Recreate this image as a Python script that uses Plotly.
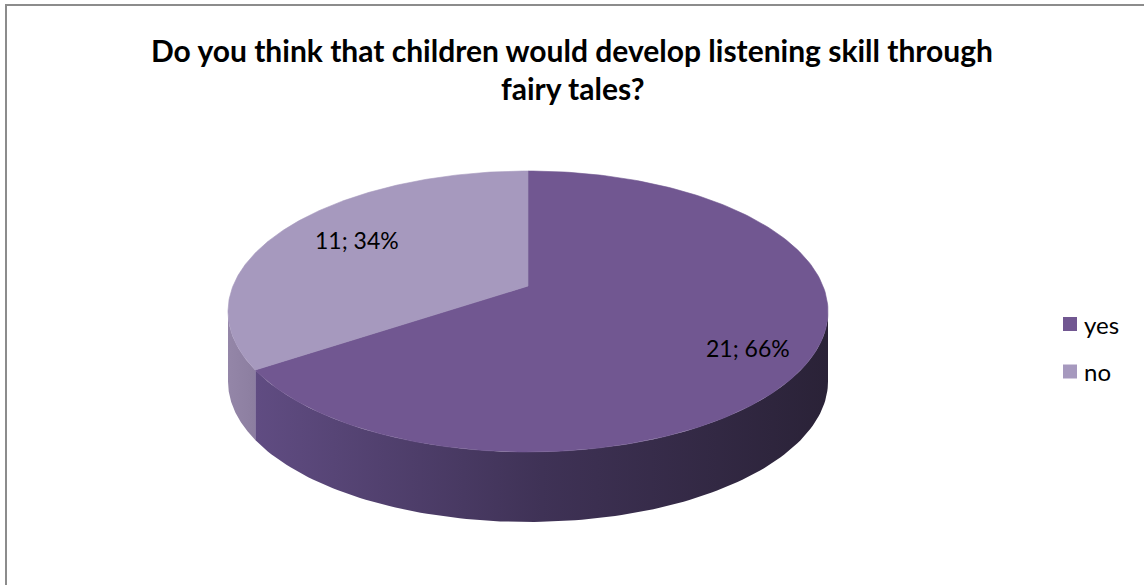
import numpy as np
import plotly.graph_objects as go

# Survey answers
labels = ["yes", "no"]
counts = [21, 11]
top_colors = ["#715791", "#A699BE"]
side_colors = [["#604C82", "#3F3256", "#2A2237"], ["#9486A8", "#8C7EA0"]]

# Geometry of the tilted pie (pixel units, y grows downward)
W, H = 1144, 585
CX, CY = 528.0, 311.5        # centre of the top ellipse
RX, RY = 300.0, 140.5        # radii of the top ellipse
DEPTH = 70.0                 # thickness of the pie
SHIFT = 0.181                # perspective shift of the disc centre toward the far side

a = np.arctanh(SHIFT)
CH, SH = np.cosh(a), np.sinh(a)


def project(phi_deg, k=1.0):
    """Perspective-project a point on the disc (angle phi, radius k) to the screen."""
    p = np.radians(phi_deg)
    den = SH * k * np.sin(p) + CH
    u = k * np.cos(p) / den
    v = (CH * k * np.sin(p) + SH) / den
    return CX + RX * u, CY - RY * v


def ellipse_angle(phi_deg):
    x, y = project(phi_deg)
    return np.degrees(np.arctan2(-(y - CY) / RY, (x - CX) / RX))


def ellipse_pts(psi_from, psi_to, n=120):
    psi = np.radians(np.linspace(psi_from, psi_to, n))
    return CX + RX * np.cos(psi), CY - RY * np.sin(psi)


total = sum(counts)
fig = go.Figure()

# slice angles: first slice starts at 12 o'clock, going clockwise
bounds = []
start = 90.0
for c in counts:
    sweep = 360.0 * c / total
    bounds.append((start, start - sweep))
    start -= sweep

# side walls (visible front half of the ellipse: psi in [-180, 0])
for i, (p0, p1) in enumerate(bounds):
    s0 = ellipse_angle(p0)
    s1 = ellipse_angle(p1)
    if s1 > s0:
        s1 -= 360.0
    segs = []
    for off in (0.0, -360.0, 360.0):
        lo, hi = max(s1, -180.0 + off), min(s0, 0.0 + off)
        if lo < hi:
            segs.append((hi, lo))
    for hi, lo in segs:
        xs, ys = ellipse_pts(hi, lo)
        px = np.concatenate([xs, xs[::-1]])
        py = np.concatenate([ys, ys[::-1] + DEPTH])
        cols = side_colors[i]
        scale = [[j / (len(cols) - 1), col] for j, col in enumerate(cols)]
        fig.add_trace(go.Scatter(
            x=px, y=py, mode="lines", fill="toself",
            line=dict(width=0), fillcolor=cols[0],
            fillgradient=dict(type="horizontal", colorscale=scale),
            hoverinfo="skip", showlegend=False))

# top faces
for i, (p0, p1) in enumerate(bounds):
    phis = np.linspace(p0, p1, 200)
    ax, ay = project(phis)
    vx, vy = project(0.0, 0.0)
    fig.add_trace(go.Scatter(
        x=np.concatenate([[vx], ax, [vx]]), y=np.concatenate([[vy], ay, [vy]]),
        mode="lines", fill="toself", line=dict(width=0.6, color=top_colors[i]),
        fillcolor=top_colors[i], hoverinfo="skip", showlegend=False))

# data labels "count; percent"
label_xy = [(748, 348), (357, 240)]
for (lx, ly), c in zip(label_xy, counts):
    fig.add_annotation(x=lx, y=ly, text=f"{c}; {round(100 * c / total)}%",
                       showarrow=False, font=dict(family="Lato", size=23, color="#000"),
                       xanchor="center", yanchor="middle")

# legend
leg_y = [324, 371.5]
fig.add_trace(go.Scatter(x=[1070] * len(labels), y=leg_y, mode="markers",
                         marker=dict(symbol="square", size=14, color=top_colors,
                                     line=dict(width=0)),
                         hoverinfo="skip", showlegend=False))
for name, ly in zip(labels, leg_y):
    fig.add_annotation(x=1082, y=ly, text=name, showarrow=False,
                       font=dict(family="Lato", size=24, color="#000"),
                       xanchor="left", yanchor="middle")

# title
for txt, ty in [("Do you think that children would develop listening skill through", 50),
                ("fairy tales?", 88)]:
    fig.add_annotation(x=572, y=ty, text=f"<b>{txt}</b>", showarrow=False,
                       font=dict(family="Lato", size=30, color="#000"),
                       xanchor="center", yanchor="middle")

# chart frame
fig.add_shape(type="rect", x0=6, y0=5, x1=W + 10, y1=H + 10,
              line=dict(color="#8C8C8C", width=2), layer="above")

fig.update_layout(
    width=W, height=H, margin=dict(l=0, r=0, t=0, b=0),
    paper_bgcolor="white", plot_bgcolor="white",
    xaxis=dict(range=[0, W], visible=False, fixedrange=True),
    yaxis=dict(range=[H, 0], visible=False, fixedrange=True),
    showlegend=False,
)

fig.write_html("out.html", config={"displayModeBar": False})
